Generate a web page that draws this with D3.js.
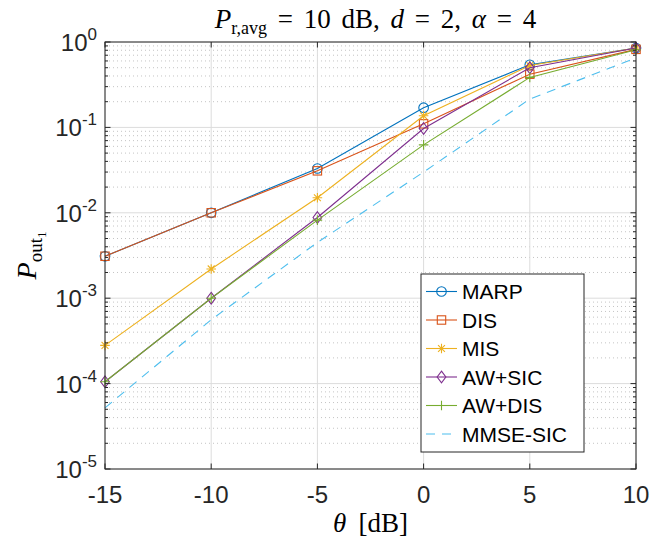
<!DOCTYPE html>
<html>
<head>
<meta charset="utf-8">
<script src="https://cdn.jsdelivr.net/npm/d3@7"></script>
<style>
html,body{margin:0;padding:0;background:#fff;}
svg{display:block;}
</style>
</head>
<body>
<svg id="chart" width="671" height="542"></svg>
<script>
const thetaDB = [-15, -10, -5, 0, 5, 10];
const seriesNames = ["MARP", "DIS", "MIS", "AW+SIC", "AW+DIS", "MMSE-SIC"];
const marp    = [3.1e-3, 1.0e-2, 3.3e-2, 0.17, 0.54, 0.85];
const dis     = [3.1e-3, 1.0e-2, 3.1e-2, 0.11, 0.42, 0.82];
const mis     = [2.8e-4, 2.2e-3, 1.5e-2, 0.137, 0.53, 0.85];
const awsic   = [1.05e-4, 1.0e-3, 8.8e-3, 0.097, 0.50, 0.85];
const awdis   = [1.05e-4, 1.0e-3, 8.2e-3, 0.0625, 0.385, 0.81];
const mmsesic = [5.2e-5, 5.6e-4, 4.5e-3, 0.030, 0.215, 0.65];
const xTicks = [-15, -10, -5, 0, 5, 10];
const yTickExp = [0, -1, -2, -3, -4, -5];

const seriesValues = [marp, dis, mis, awsic, awdis, mmsesic];
const colors = ["#0072BD", "#D95319", "#EDB120", "#7E2F8E", "#77AC30", "#4DBEEE"];
const markers = ["circle", "square", "star", "diamond", "plus", "none"];
const dashes = [null, null, null, null, null, "9,7"];

const svg = d3.select("#chart");
const L = 105, T = 42, R = 636, B = 469;
const x = d3.scaleLinear().domain([-15, 10]).range([L, R]);
const y = d3.scaleLog().domain([1e-5, 1]).range([B, T]);

const axisColor = "#262626";
const tickFont = "'Liberation Sans', Arial, Helvetica, sans-serif";
const serif = "'Liberation Serif', 'Times New Roman', serif";

// minor grid (log y)
const minorVals = [];
for (let e = -5; e < 0; e++) for (let k = 2; k <= 9; k++) minorVals.push(k * Math.pow(10, e));
const g = svg.append("g");
g.selectAll("line.minor").data(minorVals).enter().append("line")
  .attr("x1", L).attr("x2", R)
  .attr("y1", d => y(d)).attr("y2", d => y(d))
  .attr("stroke", "#bdbdbd").attr("stroke-width", 0.9).attr("stroke-dasharray", "1,3");
// major grid
g.selectAll("line.hmaj").data(yTickExp).enter().append("line")
  .attr("x1", L).attr("x2", R)
  .attr("y1", d => y(Math.pow(10, d))).attr("y2", d => y(Math.pow(10, d)))
  .attr("stroke", "#dcdcdc").attr("stroke-width", 1);
g.selectAll("line.vmaj").data(xTicks).enter().append("line")
  .attr("y1", T).attr("y2", B)
  .attr("x1", d => x(d)).attr("x2", d => x(d))
  .attr("stroke", "#dcdcdc").attr("stroke-width", 1);

// series
const line = d3.line().x((d, i) => x(thetaDB[i])).y(d => y(d));
seriesValues.forEach((vals, s) => {
  const gs = svg.append("g");
  gs.append("path").datum(vals)
    .attr("d", line)
    .attr("fill", "none")
    .attr("stroke", colors[s])
    .attr("stroke-width", 1.1)
    .attr("stroke-dasharray", dashes[s]);
  drawMarkers(gs, vals.map((v, i) => [x(thetaDB[i]), y(v)]), markers[s], colors[s]);
});

function drawMarker(sel, cx, cy, type, color) {
  const sw = 1.1;
  if (type === "circle") {
    sel.append("circle").attr("cx", cx).attr("cy", cy).attr("r", 4.8)
      .attr("fill", "none").attr("stroke", color).attr("stroke-width", sw);
  } else if (type === "square") {
    sel.append("rect").attr("x", cx - 4.2).attr("y", cy - 4.2).attr("width", 8.4).attr("height", 8.4)
      .attr("fill", "none").attr("stroke", color).attr("stroke-width", sw);
  } else if (type === "diamond") {
    const r = 5.8;
    sel.append("path").attr("d", `M${cx},${cy - r}L${cx + r * 0.75},${cy}L${cx},${cy + r}L${cx - r * 0.75},${cy}Z`)
      .attr("fill", "none").attr("stroke", color).attr("stroke-width", sw);
  } else if (type === "plus") {
    const r = 4.8;
    sel.append("path").attr("d", `M${cx - r},${cy}H${cx + r}M${cx},${cy - r}V${cy + r}`)
      .attr("stroke", color).attr("stroke-width", sw);
  } else if (type === "star") {
    const r = 4.8, q = r * 0.72;
    sel.append("path").attr("d", `M${cx - r},${cy}H${cx + r}M${cx},${cy - r}V${cy + r}M${cx - q},${cy - q}L${cx + q},${cy + q}M${cx - q},${cy + q}L${cx + q},${cy - q}`)
      .attr("stroke", color).attr("stroke-width", sw);
  }
}
function drawMarkers(sel, pts, type, color) {
  if (type === "none") return;
  pts.forEach(p => drawMarker(sel, p[0], p[1], type, color));
}

// axes box and ticks
const ax = svg.append("g");
ax.append("rect").attr("x", L).attr("y", T).attr("width", R - L).attr("height", B - T)
  .attr("fill", "none").attr("stroke", axisColor).attr("stroke-width", 1);
const tl = 5.5, tlm = 3;
xTicks.forEach(v => {
  ax.append("line").attr("x1", x(v)).attr("x2", x(v)).attr("y1", B).attr("y2", B - tl).attr("stroke", axisColor);
  ax.append("line").attr("x1", x(v)).attr("x2", x(v)).attr("y1", T).attr("y2", T + tl).attr("stroke", axisColor);
});
yTickExp.forEach(e => {
  const yy = y(Math.pow(10, e));
  ax.append("line").attr("x1", L).attr("x2", L + tl).attr("y1", yy).attr("y2", yy).attr("stroke", axisColor);
  ax.append("line").attr("x1", R).attr("x2", R - tl).attr("y1", yy).attr("y2", yy).attr("stroke", axisColor);
});
minorVals.forEach(v => {
  const yy = y(v);
  ax.append("line").attr("x1", L).attr("x2", L + tlm).attr("y1", yy).attr("y2", yy).attr("stroke", axisColor);
  ax.append("line").attr("x1", R).attr("x2", R - tlm).attr("y1", yy).attr("y2", yy).attr("stroke", axisColor);
});

// x tick labels
svg.append("g").selectAll("text").data(xTicks).enter().append("text")
  .attr("x", d => x(d)).attr("y", B + 34)
  .attr("text-anchor", "middle")
  .attr("font-family", tickFont).attr("font-size", 24).attr("fill", axisColor)
  .text(d => String(d));

// y tick labels
const yl = svg.append("g");
yTickExp.forEach(e => {
  const t = yl.append("text")
    .attr("x", L - 8).attr("y", y(Math.pow(10, e)) + 9)
    .attr("text-anchor", "end")
    .attr("font-family", tickFont).attr("font-size", 24).attr("fill", axisColor);
  t.append("tspan").text("10");
  t.append("tspan").attr("dy", -11).attr("font-size", 17).text(String(e));
});

// title
const title = svg.append("text")
  .attr("x", (L + R) / 2 + 5).attr("y", 28)
  .attr("text-anchor", "middle")
  .attr("font-family", serif).attr("font-size", 27).attr("fill", "#000")
  .style("white-space", "pre").attr("word-spacing", 4);
title.append("tspan").attr("font-style", "italic").text("P");
title.append("tspan").attr("font-size", 18).attr("dy", 6).text("r,avg");
title.append("tspan").attr("dy", -6).text(" = 10 dB, ");
title.append("tspan").attr("font-style", "italic").text("d");
title.append("tspan").text(" = 2, ");
title.append("tspan").attr("font-style", "italic").text("α");
title.append("tspan").text(" = 4");

// x label
const xlab = svg.append("text")
  .attr("x", (L + R) / 2).attr("y", B + 63)
  .attr("text-anchor", "middle")
  .attr("font-family", serif).attr("font-size", 27).attr("fill", "#000");
xlab.append("tspan").attr("font-style", "italic").text("θ");
xlab.append("tspan").text("\u00a0\u2009[dB]");

// y label
const ylab = svg.append("text")
  .attr("transform", `translate(36, ${(T + B) / 2}) rotate(-90)`)
  .attr("text-anchor", "middle")
  .attr("font-family", serif).attr("font-size", 28).attr("fill", "#000");
ylab.append("tspan").attr("font-style", "italic").text("P");
ylab.append("tspan").attr("font-size", 19).attr("dy", 6).text("out");
ylab.append("tspan").attr("font-size", 13).attr("dy", 4).text("1");

// legend
const lg = svg.append("g");
const lx = 421, ly = 274, lw = 163, lh = 178;
lg.append("rect").attr("x", lx).attr("y", ly).attr("width", lw).attr("height", lh)
  .attr("fill", "#fff").attr("stroke", axisColor).attr("stroke-width", 1);
seriesNames.forEach((name, s) => {
  const yy = ly + 17.5 + s * 28.5;
  lg.append("line").attr("x1", lx + 5).attr("x2", lx + 36).attr("y1", yy).attr("y2", yy)
    .attr("stroke", colors[s]).attr("stroke-width", 1.1).attr("stroke-dasharray", dashes[s]);
  drawMarker(lg, lx + 20.5, yy, markers[s], colors[s]);
  lg.append("text").attr("x", lx + 41).attr("y", yy + 7.5)
    .attr("font-family", tickFont).attr("font-size", 21).attr("fill", "#000")
    .text(name);
});
</script>
</body>
</html>
